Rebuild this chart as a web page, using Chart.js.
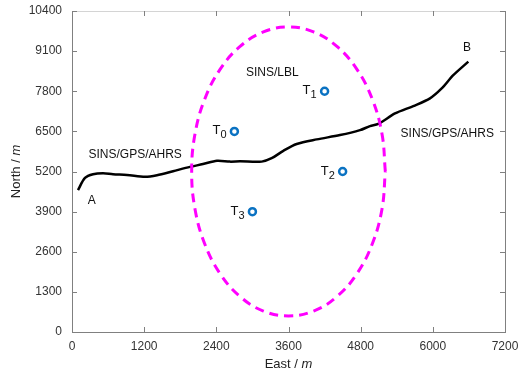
<!DOCTYPE html>
<html>
<head>
<meta charset="utf-8">
<script src="https://cdn.jsdelivr.net/npm/chart.js@4/dist/chart.umd.min.js"></script>
<style>
    body { margin: 0; background: #fff; }
    #wrap { width: 519px; height: 374px; }
</style>
</head>
<body>
<div id="wrap"><canvas id="trackChart" width="519" height="374"></canvas></div>
<script>
// vehicle track A -> B
const pathEast  = [100, 216, 350, 516, 682, 914, 1214, 1413, 1680, 1962, 2178, 2411, 2627, 2794, 3154, 3320, 3514, 3736, 4069, 4456, 4789, 4955, 5093, 5371, 5675, 5953, 6147, 6340, 6590];
const pathNorth = [4600, 4990, 5110, 5140, 5110, 5090, 5030, 5080, 5210, 5350, 5440, 5550, 5520, 5530, 5520, 5630, 5870, 6090, 6240, 6380, 6540, 6670, 6740, 7080, 7320, 7570, 7890, 8320, 8760];

// LBL coverage boundary (dashed ellipse)
const ellipseEast  = [5210, 5155, 4994, 4738, 4405, 4017, 3600, 3183, 2795, 2462, 2206, 2045, 1990, 2045, 2206, 2462, 2795, 3183, 3600, 4017, 4405, 4738, 4994, 5155, 5210];
const ellipseNorth = [5200, 6412, 7540, 8509, 9253, 9721, 9880, 9721, 9253, 8509, 7540, 6412, 5200, 3988, 2860, 1891, 1147, 679, 520, 679, 1147, 1891, 2860, 3988, 5200];

// transponders T0..T3
const beaconNames = ['0', '1', '2', '3'];
const beaconEast  = [2700, 4200, 4500, 3000];
const beaconNorth = [6500, 7800, 5200, 3900];

// axis ticks
const eastTicks  = [0, 1200, 2400, 3600, 4800, 6000, 7200];
const northTicks = [0, 1300, 2600, 3900, 5200, 6500, 7800, 9100, 10400];

// region / end point labels (data coords)
const textLabels = [
    { text: 'SINS/LBL', x: 3330, y: 8390 },
    { text: 'SINS/GPS/AHRS', x: 1050, y: 5730 },
    { text: 'SINS/GPS/AHRS', x: 6240, y: 6440 },
    { text: 'A', x: 330, y: 4250 },
    { text: 'B', x: 6570, y: 9210 }
];

const FONT = '"Liberation Sans", Arial, sans-serif';

const toPoints = (xs, ys) => xs.map((x, i) => ({ x: x, y: ys[i] }));

const extrasPlugin = {
    id: 'extras',
    afterDraw(chart) {
        const ctx = chart.ctx;
        const area = chart.chartArea;
        const xs = chart.scales.x;
        const ys = chart.scales.y;

        ctx.save();
        // top and right frame
        ctx.lineWidth = 1;
        ctx.strokeStyle = '#d4d4d4';
        ctx.beginPath();
        ctx.moveTo(area.left, area.top + 0.5);
        ctx.lineTo(area.right, area.top + 0.5);
        ctx.stroke();
        ctx.strokeStyle = '#808080';
        ctx.beginPath();
        ctx.moveTo(area.right + 0.5, area.top);
        ctx.lineTo(area.right + 0.5, area.bottom);
        ctx.stroke();

        // inward tick marks
        const tl = 5;
        ctx.beginPath();
        eastTicks.forEach(v => {
            const px = Math.round(xs.getPixelForValue(v)) + 0.5;
            ctx.moveTo(px, area.bottom); ctx.lineTo(px, area.bottom - tl);
            ctx.moveTo(px, area.top); ctx.lineTo(px, area.top + tl);
        });
        northTicks.forEach(v => {
            const py = Math.round(ys.getPixelForValue(v)) + 0.5;
            ctx.moveTo(area.left, py); ctx.lineTo(area.left + tl, py);
            ctx.moveTo(area.right, py); ctx.lineTo(area.right - tl, py);
        });
        ctx.stroke();

        // text labels
        ctx.fillStyle = '#111';
        ctx.font = '12px ' + FONT;
        ctx.textAlign = 'center';
        ctx.textBaseline = 'middle';
        textLabels.forEach(l => {
            ctx.fillText(l.text, xs.getPixelForValue(l.x), ys.getPixelForValue(l.y));
        });

        // beacon labels with subscript
        beaconNames.forEach((n, i) => {
            const px = xs.getPixelForValue(beaconEast[i]);
            const py = ys.getPixelForValue(beaconNorth[i]);
            ctx.textAlign = 'left';
            ctx.textBaseline = 'alphabetic';
            ctx.font = '13px ' + FONT;
            ctx.fillText('T', px - 22, py + 3);
            ctx.font = '11px ' + FONT;
            ctx.fillText(n, px - 14, py + 7);
        });

        // axis titles, unit in italics
        const mixed = (plain, cx, cy, rot) => {
            ctx.save();
            ctx.translate(cx, cy);
            ctx.rotate(rot);
            ctx.textAlign = 'left';
            ctx.textBaseline = 'middle';
            ctx.font = '13px ' + FONT;
            const w1 = ctx.measureText(plain).width;
            ctx.font = 'italic 13px ' + FONT;
            const w2 = ctx.measureText('m').width;
            const x0 = -(w1 + w2) / 2;
            ctx.font = '13px ' + FONT;
            ctx.fillText(plain, x0, 0);
            ctx.font = 'italic 13px ' + FONT;
            ctx.fillText('m', x0 + w1, 0);
            ctx.restore();
        };
        ctx.fillStyle = '#222';
        mixed('East / ', (area.left + area.right) / 2, 364, 0);
        mixed('North / ', 16, (area.top + area.bottom) / 2, -Math.PI / 2);
        ctx.restore();
    }
};

const ctx = document.getElementById('trackChart').getContext('2d');
new Chart(ctx, {
    type: 'scatter',
    data: {
        datasets: [
            {
                label: 'Ellipse',
                data: toPoints(ellipseEast, ellipseNorth),
                showLine: true,
                borderColor: '#ff00ff',
                borderWidth: 3,
                borderDash: [9, 6],
                tension: 0.4,
                pointRadius: 0,
                fill: false
            },
            {
                label: 'Track',
                data: toPoints(pathEast, pathNorth),
                showLine: true,
                borderColor: '#000',
                borderWidth: 2.5,
                tension: 0.3,
                pointRadius: 0,
                fill: false
            },
            {
                label: 'Transponders',
                data: toPoints(beaconEast, beaconNorth),
                pointStyle: 'circle',
                pointRadius: 3.5,
                pointBorderWidth: 2.5,
                pointBorderColor: '#0a72c2',
                pointBackgroundColor: '#fff'
            }
        ]
    },
    options: {
        responsive: false,
        animation: false,
        layout: { padding: { left: 0, top: 11, right: 14, bottom: 0 } },
        plugins: {
            legend: { display: false },
            tooltip: { enabled: false }
        },
        scales: {
            x: {
                type: 'linear',
                min: 0,
                max: 7200,
                afterBuildTicks: axis => { axis.ticks = eastTicks.map(v => ({ value: v })); },
                afterFit: axis => { axis.height = 42; axis.paddingLeft = 0; axis.paddingRight = 0; },
                grid: { display: true, drawOnChartArea: false, drawTicks: false },
                border: { color: '#808080', width: 1 },
                ticks: { color: '#333', font: { family: FONT, size: 12 }, padding: 7, maxRotation: 0, callback: v => String(v) }
            },
            y: {
                type: 'linear',
                min: 0,
                max: 10400,
                afterBuildTicks: axis => { axis.ticks = northTicks.map(v => ({ value: v })); },
                afterFit: axis => { axis.width = 72; axis.paddingTop = 0; axis.paddingBottom = 0; },
                grid: { display: true, drawOnChartArea: false, drawTicks: false },
                border: { color: '#808080', width: 1 },
                ticks: { color: '#333', font: { family: FONT, size: 12 }, padding: 10, callback: v => String(v) }
            }
        }
    },
    plugins: [extrasPlugin]
});
</script>
</body>
</html>
